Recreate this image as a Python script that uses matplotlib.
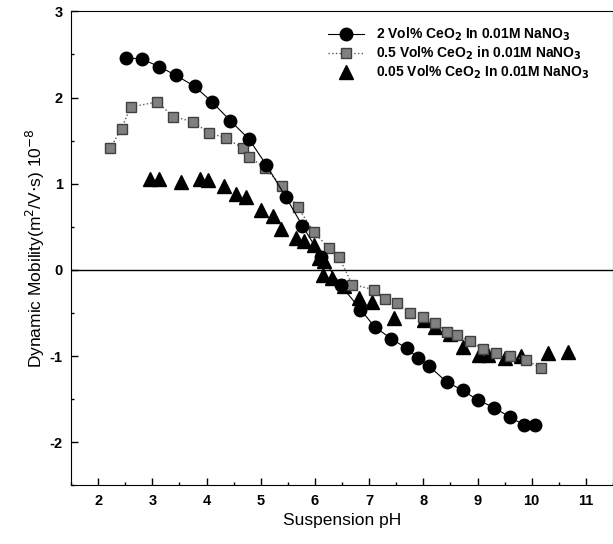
import matplotlib
matplotlib.use("Agg")
import matplotlib.pyplot as plt
from matplotlib.ticker import MultipleLocator

plt.rcParams['font.family'] = ['Liberation Sans', 'DejaVu Sans']
plt.rcParams['axes.unicode_minus'] = False

# 2 vol% CeO2 (circles, solid line)
ph_2 = [2.51, 2.80, 3.12, 3.43, 3.78, 4.10, 4.44, 4.78, 5.10, 5.46, 5.77,
        6.12, 6.48, 6.84, 7.10, 7.41, 7.69, 7.90, 8.11, 8.43, 8.73, 9.00,
        9.31, 9.60, 9.86, 10.06]
mob_2 = [2.46, 2.45, 2.36, 2.26, 2.13, 1.95, 1.73, 1.52, 1.22, 0.85, 0.51,
         0.15, -0.18, -0.46, -0.66, -0.80, -0.91, -1.02, -1.12, -1.30, -1.40, -1.51,
         -1.60, -1.71, -1.80, -1.80]

# 0.5 vol% CeO2 (grey squares, dotted line)
ph_05 = [2.22, 2.43, 2.60, 3.09, 3.38, 3.75, 4.04, 4.36, 4.67, 4.79, 5.08,
         5.40, 5.68, 5.98, 6.26, 6.44, 6.69, 7.09, 7.30, 7.51, 7.76, 8.00,
         8.22, 8.43, 8.62, 8.86, 9.10, 9.35, 9.60, 9.90, 10.18]
mob_05 = [1.41, 1.64, 1.89, 1.95, 1.78, 1.72, 1.59, 1.53, 1.41, 1.31, 1.18,
          0.97, 0.73, 0.44, 0.25, 0.15, -0.17, -0.23, -0.34, -0.39, -0.50, -0.55,
          -0.62, -0.72, -0.76, -0.83, -0.92, -0.97, -1.00, -1.05, -1.14]

# 0.05 vol% CeO2 (triangles, no line)
ph_005 = [2.95, 3.13, 3.53, 3.87, 4.02, 4.33, 4.54, 4.72, 5.00, 5.22, 5.38,
          5.65, 5.80, 5.98, 6.08, 6.17, 6.14, 6.32, 6.54, 6.81, 7.05, 7.45,
          8.01, 8.22, 8.50, 8.74, 9.02, 9.20, 9.51, 9.80, 10.30, 10.67]
mob_005 = [1.06, 1.06, 1.02, 1.06, 1.04, 0.97, 0.88, 0.85, 0.70, 0.63, 0.48,
           0.37, 0.33, 0.29, 0.14, 0.10, -0.06, -0.10, -0.19, -0.33, -0.37, -0.56,
           -0.58, -0.66, -0.75, -0.89, -0.99, -0.99, -1.02, -1.00, -0.97, -0.95]

labels = [r'2 Vol% CeO$_\mathbf{2}$ In 0.01M NaNO$_\mathbf{3}$',
          r'0.5 Vol% CeO$_\mathbf{2}$ in 0.01M NaNO$_\mathbf{3}$',
          r'0.05 Vol% CeO$_\mathbf{2}$ In 0.01M NaNO$_\mathbf{3}$']

fig = plt.figure(figsize=(6.13, 5.44), dpi=100)
ax = fig.add_axes([0.116, 0.108, 0.884, 0.871])

ax.axhline(0, color='black', lw=1.0, zorder=1)

ax.plot(ph_2, mob_2, '-o', color='black', lw=0.8, ms=9, mfc='black',
        mec='black', label=labels[0], zorder=4)
ax.plot(ph_05, mob_05, ':s', color='0.35', lw=1.0, ms=7.5, mfc='0.5',
        mec='0.25', label=labels[1], zorder=3)
ax.plot(ph_005, mob_005, '^', color='black', ms=10, mfc='black',
        mec='black', label=labels[2], zorder=2, linestyle='none')

ax.set_xlim(1.5, 11.5)
ax.set_ylim(-2.5, 3)
ax.xaxis.set_major_locator(MultipleLocator(1))
ax.xaxis.set_minor_locator(MultipleLocator(0.5))
ax.yaxis.set_major_locator(MultipleLocator(1))
ax.yaxis.set_minor_locator(MultipleLocator(0.5))
ax.tick_params(which='both', direction='in', top=False, right=False)
ax.tick_params(which='major', length=5, width=1, labelsize=10.5, pad=6)
ax.tick_params(which='minor', length=2.5, width=1)
for lab in ax.get_xticklabels() + ax.get_yticklabels():
    lab.set_fontweight('bold')

ax.set_xlabel('Suspension pH', fontsize=12.5, labelpad=4)
ax.set_ylabel(r'Dynamic Mobility(m$^2$/V$\cdot$s) 10$^{-8}$', fontsize=12.5,
              labelpad=2)

leg = ax.legend(loc='upper right', bbox_to_anchor=(0.975, 0.99), frameon=False,
                prop={'weight': 'bold', 'size': 10}, handlelength=2.6,
                labelspacing=0.1, handletextpad=0.9, borderpad=0.2)

fig.savefig('out.png', dpi=100)
